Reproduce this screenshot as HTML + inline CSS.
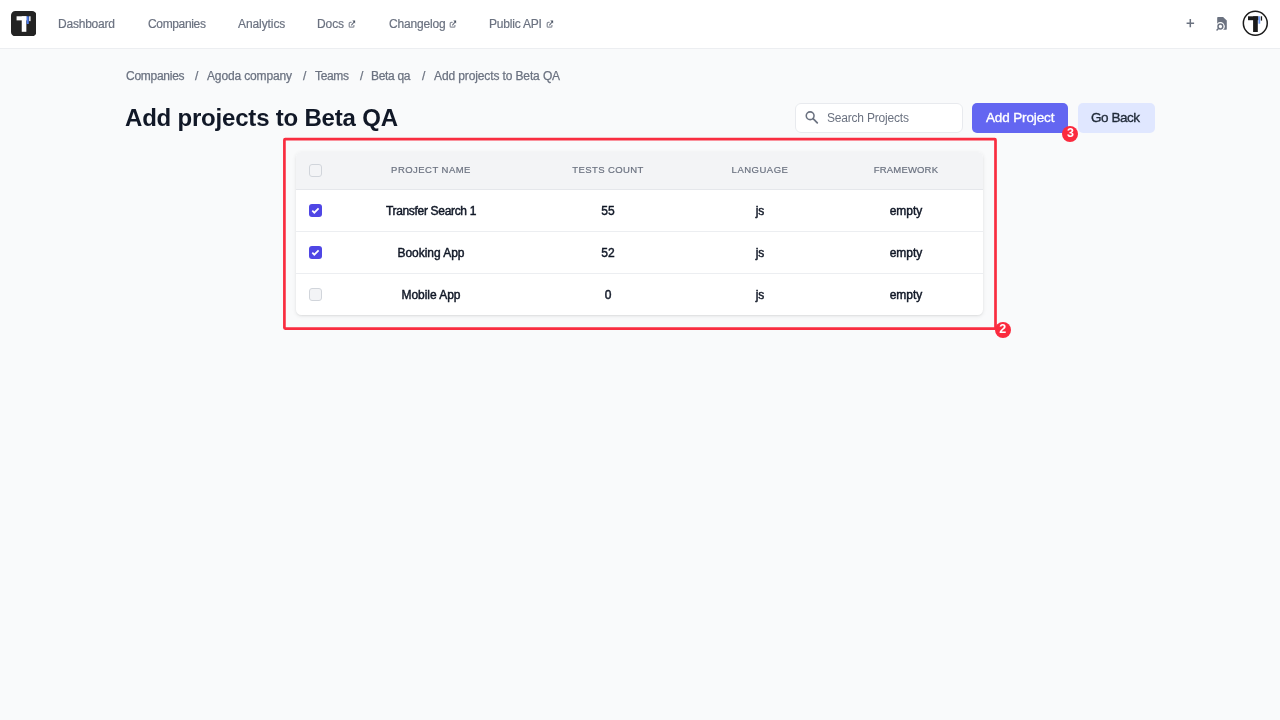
<!DOCTYPE html>
<html><head><meta charset="utf-8">
<style>
*{margin:0;padding:0;box-sizing:border-box}
html,body{width:1280px;height:720px;overflow:hidden;background:#f9fafb;font-family:"Liberation Sans",sans-serif}
.a{position:absolute;white-space:nowrap;line-height:1;will-change:transform}
#hdr{position:absolute;left:0;top:0;width:1280px;height:49px;background:#fff;border-bottom:1px solid #eceef1}
.nav{font-size:12px;color:#6b7280;top:18.4px;-webkit-text-stroke:0.2px #6b7280}
.bc{font-size:12px;color:#6b7280;top:70.4px;-webkit-text-stroke:0.25px #6b7280}
.th{font-size:9.5px;color:#6b7280;top:165.2px;-webkit-text-stroke:0.2px #6b7280;width:200px;text-align:center}
.td{font-size:12px;color:#111827;width:200px;text-align:center;-webkit-text-stroke:0.45px #111827}
.cb{position:absolute;left:309px;width:13px;height:13px;border-radius:3px}
.cb.off{border:1px solid #d1d5db;background:#f3f4f6}
.cb.on{background:#4f46e5}
.badge{position:absolute;width:16px;height:16px;border-radius:50%;background:#fb2a3e;color:#fff;font-weight:700;font-size:12.5px;line-height:14.5px;text-align:center}
</style></head>
<body>
<div id="hdr"></div>
<!-- logo -->
<svg class="a" style="left:11.3px;top:10.6px" width="25.4" height="25.4" viewBox="0 0 26 26">
<rect x="0" y="0" width="26" height="26" rx="4.5" fill="#232323"/>
<rect x="5.7" y="5.4" width="10.5" height="4.2" fill="#fff"/>
<rect x="11" y="5.4" width="4.7" height="15.9" fill="#fff"/>
<rect x="16" y="5.4" width="2.2" height="7.9" fill="#4b7bec"/>
<rect x="18.6" y="5.4" width="1.4" height="5" fill="#fff"/>
</svg>
<div class="a nav" style="left:58.2px;letter-spacing:-0.22px">Dashboard</div>
<div class="a nav" style="left:147.7px;letter-spacing:-0.35px">Companies</div>
<div class="a nav" style="left:238.2px;letter-spacing:-0.09px">Analytics</div>
<div class="a nav" style="left:317.4px;letter-spacing:-0.1px">Docs</div>
<div class="a nav" style="left:388.7px;letter-spacing:-0.17px">Changelog</div>
<div class="a nav" style="left:488.9px;letter-spacing:-0.2px">Public API</div>
<svg class="a ext" style="left:348.1px;top:20px" width="8" height="8" viewBox="0 0 8 8"><path d="M3.6 2.4H2.2Q1.2 2.4 1.2 3.4V6.2Q1.2 7.2 2.2 7.2H4.9Q5.9 7.2 5.9 6.2V4.9" fill="none" stroke="#8e939e" stroke-width="1.25"/><path d="M3.3 5.3L6 2.2" stroke="#6b7280" stroke-width="1.15"/><path d="M4.3 0.6H7.1V3.4Z" fill="#4b5563"/></svg>
<svg class="a ext" style="left:448.6px;top:20px" width="8" height="8" viewBox="0 0 8 8"><path d="M3.6 2.4H2.2Q1.2 2.4 1.2 3.4V6.2Q1.2 7.2 2.2 7.2H4.9Q5.9 7.2 5.9 6.2V4.9" fill="none" stroke="#8e939e" stroke-width="1.25"/><path d="M3.3 5.3L6 2.2" stroke="#6b7280" stroke-width="1.15"/><path d="M4.3 0.6H7.1V3.4Z" fill="#4b5563"/></svg>
<svg class="a ext" style="left:545.7px;top:20px" width="8" height="8" viewBox="0 0 8 8"><path d="M3.6 2.4H2.2Q1.2 2.4 1.2 3.4V6.2Q1.2 7.2 2.2 7.2H4.9Q5.9 7.2 5.9 6.2V4.9" fill="none" stroke="#8e939e" stroke-width="1.25"/><path d="M3.3 5.3L6 2.2" stroke="#6b7280" stroke-width="1.15"/><path d="M4.3 0.6H7.1V3.4Z" fill="#4b5563"/></svg>
<!-- right icons -->
<svg class="a" style="left:1186px;top:19px" width="9" height="9" viewBox="0 0 9 9"><path d="M4.3 0.1V8.3M0.6 4.2H8.1" stroke="#6b7280" stroke-width="1.5" fill="none"/></svg>
<svg class="a" style="left:1210px;top:12px" width="24" height="22" viewBox="0 0 24 22">
<path d="M7.2 5.7Q7.2 4.9 8 4.9H13.1L16.8 8.6V16.9Q16.8 17.7 16 17.7H7.2Z" fill="#6b7280"/>
<circle cx="10.4" cy="14.5" r="4.4" fill="#fff"/>
<circle cx="10.4" cy="14.5" r="2.4" fill="none" stroke="#6b7280" stroke-width="1.5"/>
<path d="M8.7 16.3L7 18" stroke="#6b7280" stroke-width="1.5" stroke-linecap="round"/>
</svg>
<svg class="a" style="left:1242px;top:10px" width="27" height="27" viewBox="0 0 27 27">
<circle cx="13.3" cy="13.25" r="11.95" fill="#fff" stroke="#1a1a1a" stroke-width="1.5"/>
<rect x="6" y="6.3" width="10.5" height="3.9" fill="#1a1a1a"/>
<rect x="11.1" y="6.3" width="4.7" height="15.7" fill="#1a1a1a"/>
<rect x="16.4" y="6.3" width="1.8" height="7.4" fill="#6f9cf5"/>
<rect x="18.8" y="6.3" width="1.3" height="4.3" fill="#1a1a1a"/>
</svg>

<!-- breadcrumb -->
<div class="a bc" style="left:125.5px;letter-spacing:-0.27px">Companies</div>
<div class="a bc" style="left:195px">/</div>
<div class="a bc" style="left:207px;letter-spacing:-0.14px">Agoda company</div>
<div class="a bc" style="left:302.7px">/</div>
<div class="a bc" style="left:315.1px;letter-spacing:-0.33px">Teams</div>
<div class="a bc" style="left:359.6px">/</div>
<div class="a bc" style="left:370.6px;letter-spacing:-0.32px">Beta qa</div>
<div class="a bc" style="left:421.8px">/</div>
<div class="a bc" style="left:434.1px;letter-spacing:-0.12px">Add projects to Beta QA</div>

<div class="a" style="left:124.5px;top:105.7px;font-size:24px;font-weight:700;color:#111827;letter-spacing:-0.2px">Add projects to Beta QA</div>

<!-- search -->
<div class="a" style="left:794.5px;top:102.7px;width:168px;height:30px;background:#fff;border:1px solid #e8eaee;border-radius:6px"></div>
<svg class="a" style="left:805px;top:111px" width="14" height="14" viewBox="0 0 14 14"><circle cx="5.15" cy="4.75" r="3.9" fill="none" stroke="#6b7280" stroke-width="1.55"/><path d="M8.1 7.7L12.3 11.9" stroke="#6b7280" stroke-width="1.7" stroke-linecap="round"/></svg>
<div class="a" style="left:826.7px;top:111.5px;font-size:12px;color:#6b7280;letter-spacing:-0.2px">Search Projects</div>

<div class="a" style="left:972.2px;top:102.5px;width:95.6px;height:30px;background:#6366f1;border-radius:5px"></div>
<div class="a" style="left:986px;top:110.7px;font-size:13.5px;color:#fff;letter-spacing:-0.14px;-webkit-text-stroke:0.35px #fff">Add Project</div>
<div class="a" style="left:1077.5px;top:102.5px;width:76.5px;height:30px;background:#e0e7ff;border-radius:5px"></div>
<div class="a" style="left:1091.2px;top:110.7px;font-size:13.5px;color:#1f2937;letter-spacing:-0.45px;-webkit-text-stroke:0.35px #1f2937">Go Back</div>

<!-- table card -->
<div class="a" style="left:296px;top:152px;width:686.5px;height:163px;background:#fff;border-radius:5.5px;box-shadow:0 1px 4px rgba(0,0,0,0.09),0 1px 2px rgba(0,0,0,0.06);overflow:hidden">
  <div style="position:absolute;left:0;top:0;width:100%;height:37.5px;background:#f3f4f6;border-bottom:1px solid #e5e7eb"></div>
  <div style="position:absolute;left:0;top:79px;width:100%;height:1px;background:#eceef1"></div>
  <div style="position:absolute;left:0;top:121px;width:100%;height:1px;background:#eceef1"></div>
</div>
<div class="cb off" style="top:164px"></div>
<div class="cb on" style="top:204px"><svg width="13" height="13" viewBox="0 0 13 13" style="display:block"><path d="M3.3 6.7L5.3 8.7L9.6 4.3" fill="none" stroke="#fff" stroke-width="1.7"/></svg></div>
<div class="cb on" style="top:246px"><svg width="13" height="13" viewBox="0 0 13 13" style="display:block"><path d="M3.3 6.7L5.3 8.7L9.6 4.3" fill="none" stroke="#fff" stroke-width="1.7"/></svg></div>
<div class="cb off" style="top:288px"></div>

<div class="a th" style="left:330.7px;letter-spacing:0.46px">PROJECT NAME</div>
<div class="a th" style="left:508.2px;letter-spacing:0.4px">TESTS COUNT</div>
<div class="a th" style="left:659.7px;letter-spacing:0.5px">LANGUAGE</div>
<div class="a th" style="left:806.2px;letter-spacing:0.17px">FRAMEWORK</div>

<div class="a td" style="left:330.7px;top:204.9px;letter-spacing:-0.32px">Transfer Search 1</div>
<div class="a td" style="left:508.2px;top:204.9px">55</div>
<div class="a td" style="left:659.7px;top:204.9px">js</div>
<div class="a td" style="left:806.2px;top:204.9px;letter-spacing:0px">empty</div>

<div class="a td" style="left:330.7px;top:246.6px;letter-spacing:-0.04px">Booking App</div>
<div class="a td" style="left:508.2px;top:246.6px">52</div>
<div class="a td" style="left:659.7px;top:246.6px">js</div>
<div class="a td" style="left:806.2px;top:246.6px;letter-spacing:0px">empty</div>

<div class="a td" style="left:330.7px;top:289.2px;letter-spacing:-0.04px">Mobile App</div>
<div class="a td" style="left:508.2px;top:289.2px">0</div>
<div class="a td" style="left:659.7px;top:289.2px">js</div>
<div class="a td" style="left:806.2px;top:289.2px;letter-spacing:0px">empty</div>

<!-- annotations -->
<svg class="a" style="left:0;top:0" width="1280" height="720"><rect x="284.4" y="139.1" width="711.1" height="189.5" fill="none" stroke="#f92d40" stroke-width="2.7" rx="0.8"/></svg>
<div class="badge" style="left:994.7px;top:322.1px">2</div>
<div class="badge" style="left:1062.4px;top:126px">3</div>
</body></html>
